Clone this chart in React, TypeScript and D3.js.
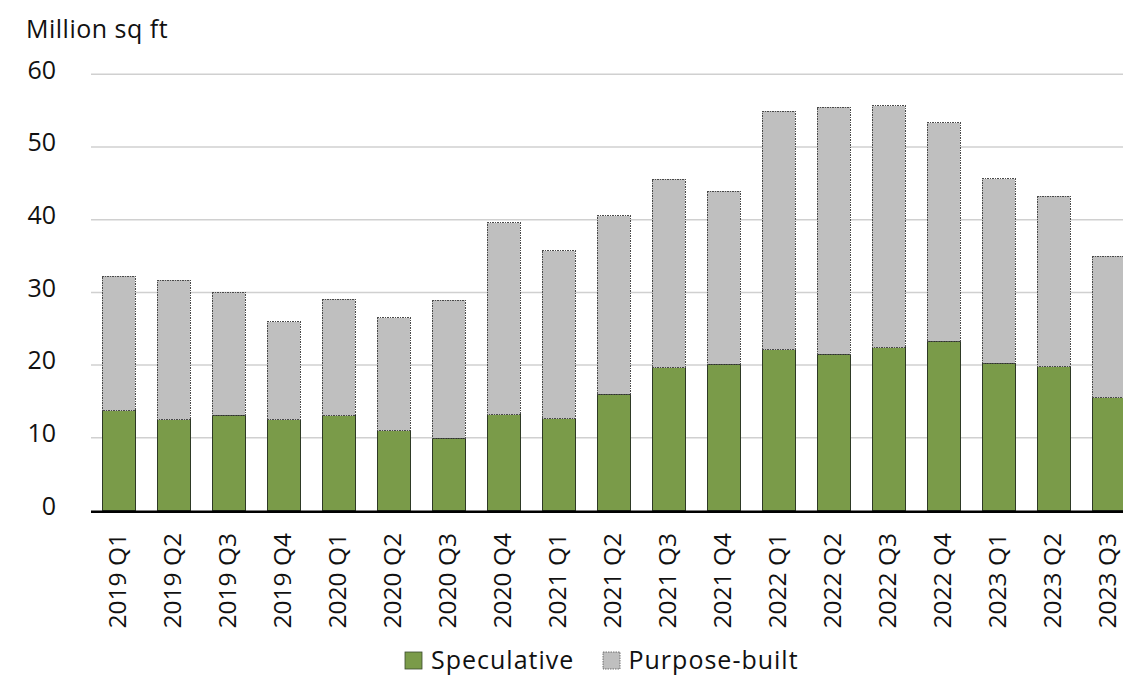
import React from "react";
import * as d3 from "d3";

// Quarterly take-up, million sq ft
const quarters = [
  "2019 Q1", "2019 Q2", "2019 Q3", "2019 Q4",
  "2020 Q1", "2020 Q2", "2020 Q3", "2020 Q4",
  "2021 Q1", "2021 Q2", "2021 Q3", "2021 Q4",
  "2022 Q1", "2022 Q2", "2022 Q3", "2022 Q4",
  "2023 Q1", "2023 Q2", "2023 Q3",
];
const speculative = [
  13.7, 12.45, 13.1, 12.45, 13.0, 11.0, 9.95, 13.15, 12.6, 16.0,
  19.65, 20.1, 22.1, 21.5, 22.4, 23.3, 20.25, 19.8, 15.5,
];
const purposeBuilt = [
  18.5, 19.2, 16.9, 13.5, 16.05, 15.5, 18.95, 26.45, 23.1, 24.55,
  25.9, 23.8, 32.8, 34.0, 33.3, 30.05, 25.35, 23.4, 19.45,
];
const yTicks = [0, 10, 20, 30, 40, 50, 60];
const seriesNames = ["Speculative", "Purpose-built"];

const W = 1123;
const H = 676;
const FONT = "'Open Sans', 'Noto Sans', sans-serif";
const GREEN = "#7a9b49";
const GREY = "#bfbfbf";
const TEXT = "#111";

export default function App() {
  const x = d3
    .scaleBand<string>()
    .domain(quarters)
    .range([91, 91 + quarters.length * 55])
    .paddingInner(0.4)
    .paddingOuter(0.2);
  const y = d3.scaleLinear().domain([0, 60]).range([510.5, 74.3]);

  const rows = quarters.map((q, i) => ({
    q,
    spec: speculative[i],
    pb: purposeBuilt[i],
  }));
  const stack = d3.stack<any>().keys(["spec", "pb"])(rows);

  return (
    <svg
      width={W}
      height={H}
      style={{ position: "absolute", left: 0, top: 0, background: "#fff" }}
      fontFamily={FONT}
    >
      <text x={26} y={37.5} fontSize={25} letterSpacing={0.5} fill={TEXT}>
        Million sq ft
      </text>

      {yTicks.map((t) => (
        <g key={t}>
          {t > 0 && (
            <line
              x1={91}
              x2={W}
              y1={y(t)}
              y2={y(t)}
              stroke="#d0d0d0"
              strokeWidth={1.5}
            />
          )}
          <text
            x={56}
            y={y(t) + 4.3}
            textAnchor="end"
            fontSize={25}
            fill={TEXT}
          >
            {t}
          </text>
        </g>
      ))}

      {stack.map((layer, li) => (
        <g key={li}>
          {layer.map((d, i) => {
            const x0 = x(quarters[i])!;
            const top = y(d[1]);
            const bottom = y(d[0]);
            return (
              <rect
                key={i}
                x={x0}
                y={top}
                width={x.bandwidth()}
                height={bottom - top}
                fill={li === 0 ? GREEN : GREY}
                stroke={li === 0 ? "#2e3a26" : "#4a4a4a"}
                strokeWidth={1}
                strokeDasharray={li === 0 ? undefined : "1.5 1"}
                shapeRendering="crispEdges"
              />
            );
          })}
        </g>
      ))}

      <line
        x1={91}
        x2={W}
        y1={y(0) + 1.2}
        y2={y(0) + 1.2}
        stroke="#000"
        strokeWidth={2.6}
      />

      {quarters.map((q) => (
        <text
          key={q}
          transform={`translate(${x(q)! + x.bandwidth() / 2 + 7},533) rotate(-90)`}
          textAnchor="end"
          fontSize={24.5}
          fill={TEXT}
        >
          {q}
        </text>
      ))}

      <g>
        <rect x={405} y={652} width={17} height={17} fill={GREEN} stroke="#3a4a2e" strokeWidth={0.8} />
        <text x={431} y={669} fontSize={25} letterSpacing={1} fill={TEXT}>
          {seriesNames[0]}
        </text>
        <rect
          x={603}
          y={652}
          width={17}
          height={17}
          fill={GREY}
          stroke="#555"
          strokeWidth={0.8}
          strokeDasharray="1.5 1"
        />
        <text x={628.5} y={669} fontSize={25} letterSpacing={1} fill={TEXT}>
          {seriesNames[1]}
        </text>
      </g>
    </svg>
  );
}
